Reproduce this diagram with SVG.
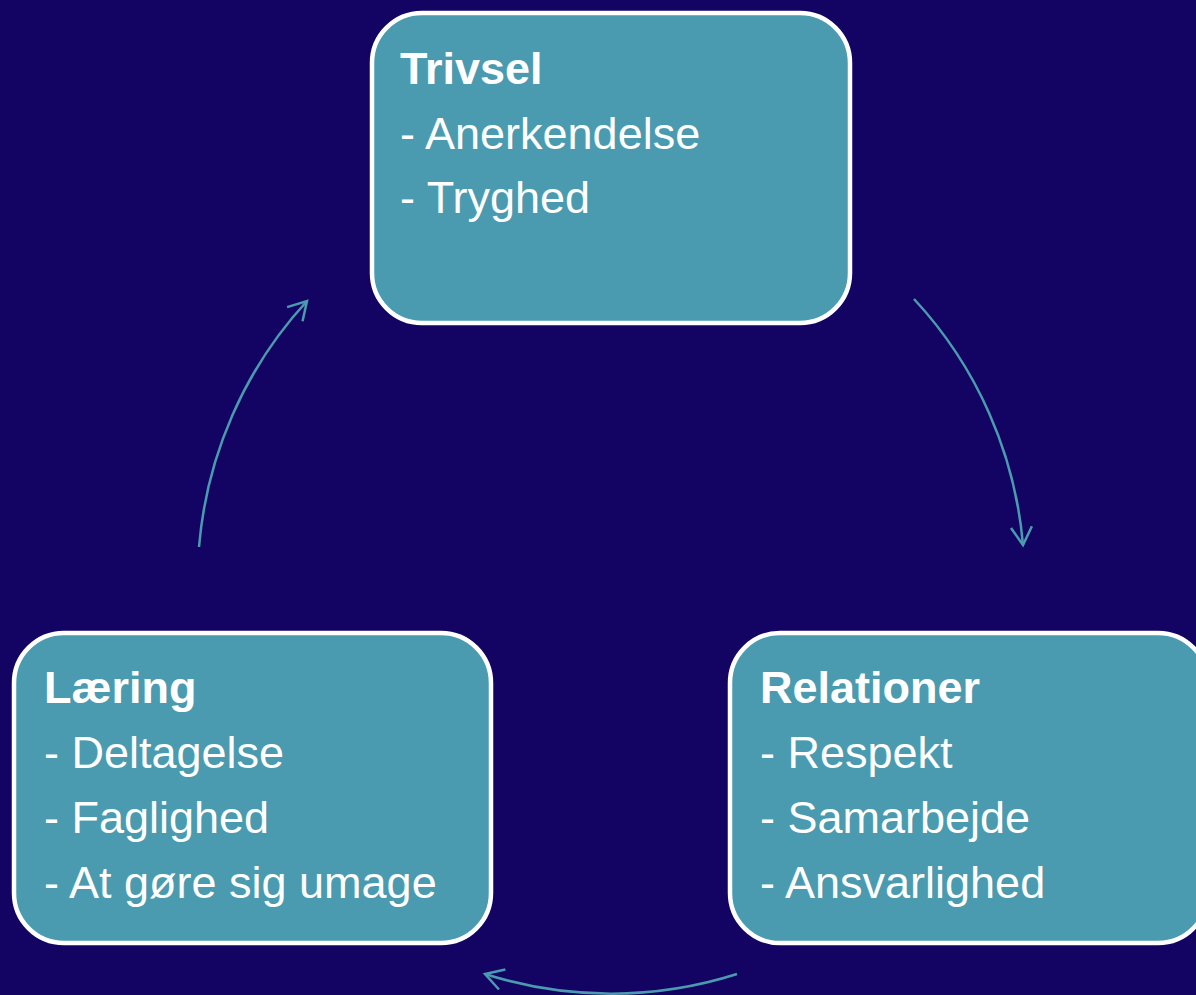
<svg xmlns="http://www.w3.org/2000/svg" width="1196" height="995" viewBox="0 0 1196 995">
<style>
.box{fill:#4B9BB0;stroke:#FFFFFF;stroke-width:4.5}
.t{font-family:"Liberation Sans",Arial,sans-serif;font-size:45px;fill:#FFFFFF}
.b{font-weight:bold}
.c{fill:none;stroke:#4B9BB0;stroke-width:2.5}
</style>
<defs>
<marker id="ah" markerUnits="userSpaceOnUse" markerWidth="40" markerHeight="40" refX="0" refY="0" orient="auto" overflow="visible">
<path d="M -18,-10.5 L 0,0 L -18,10.5" fill="none" stroke="#4B9BB0" stroke-width="2.5"/>
</marker>
</defs>
<rect width="1196" height="995" fill="#130363"/>
<g id="connectors">
<path class="c" d="M 914,299 A 414,414 0 0 1 1023,545" marker-end="url(#ah)"/>
<path class="c" d="M 737,974 A 414,414 0 0 1 485,974" marker-end="url(#ah)"/>
<path class="c" d="M 199,547 A 414,414 0 0 1 307,301" marker-end="url(#ah)"/>
</g>
<g id="trivsel">
<rect class="box" x="372" y="13" width="478" height="310" rx="50" ry="50"/>
<text class="t b" x="400" y="84">Trivsel</text>
<text class="t" x="400" y="148.5">- Anerkendelse</text>
<text class="t" x="400" y="213">- Tryghed</text>
</g>
<g id="laering">
<rect class="box" x="14" y="633" width="477" height="310" rx="50" ry="50"/>
<text class="t b" x="44" y="703">Læring</text>
<text class="t" x="44" y="768">- Deltagelse</text>
<text class="t" x="44" y="833">- Faglighed</text>
<text class="t" x="44" y="898">- At gøre sig umage</text>
</g>
<g id="relationer">
<rect class="box" x="730" y="633" width="478" height="310" rx="50" ry="50"/>
<text class="t b" x="760" y="703">Relationer</text>
<text class="t" x="760" y="768">- Respekt</text>
<text class="t" x="760" y="833">- Samarbejde</text>
<text class="t" x="760" y="898">- Ansvarlighed</text>
</g>
</svg>
